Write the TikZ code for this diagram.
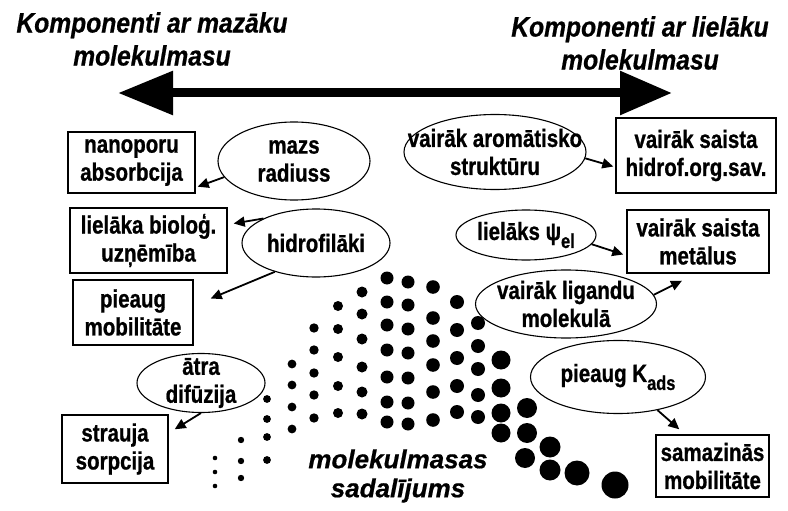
\documentclass[tikz,border=0pt]{standalone}
\usepackage{fontspec}
\setmainfont[BoldItalicFeatures={FakeBold=0.6}]{Liberation Sans}
\newfontfamily\narrowfont[FakeStretch=0.82, BoldFeatures={FakeBold=0.8}]{Liberation Sans}
\newfontfamily\titlefont[FakeStretch=0.88, BoldItalicFeatures={FakeBold=0.6}]{Liberation Sans}
\usetikzlibrary{shapes.geometric,arrows.meta}

\newcommand{\lowsub}[1]{\raisebox{-8pt}{\fontsize{20}{20}\selectfont #1}}

\begin{document}
\begin{tikzpicture}[x=1pt, y=-1pt,
	box/.style={draw, line width=1.4pt, inner sep=0pt, align=center, font=\narrowfont\fontsize{25}{28}\selectfont\bfseries},
	oval/.style={draw, ellipse, line width=1.1pt, inner sep=0pt},
	ovaltext/.style={align=center, inner sep=0pt, font=\narrowfont\fontsize{25}{28}\selectfont\bfseries},
	title/.style={align=center, font=\titlefont\fontsize{28}{33}\selectfont\bfseries\itshape},
	conn/.style={line width=1.8pt, -{Triangle[length=11pt,width=10pt]}},
	bigarrow/.style={line width=9pt, {Triangle[length=55pt,width=42pt]}-{Triangle[length=52pt,width=42pt]}}]

	\useasboundingbox (0,0) rectangle (788,511);

	% Titles
	\node[title] (small) at (152,39) {Komponenti ar mazāku\\molekulmasu};
	\node[title] (large) at (640,43) {Komponenti ar lielāku\\molekulmasu};

	% Molecular mass axis
	\coordinate (lft) at (118,93);
	\coordinate (rgt) at (672,93);
	\draw[bigarrow] (lft) -- (rgt);

	% Boxes, left side
	\node[box, minimum width=127pt, minimum height=61pt] (nanoporu) at (131.5,162.5) {nanoporu\\absorbcija};
	\node[box, minimum width=157pt, minimum height=65pt] (biolog) at (148.5,240.5) {lielāka bioloģ.\\uzņēmība};
	\node[box, minimum width=120pt, minimum height=65pt] (mobil) at (133,312.5) {pieaug\\mobilitāte};
	\node[box, minimum width=106pt, minimum height=68pt] (strauja) at (115,449) {strauja\\sorpcija};

	% Boxes, right side
	\node[box, minimum width=160pt, minimum height=75pt] (hidrof) at (696,155.5) {vairāk saista\\hidrof.org.sav.};
	\node[box, minimum width=142pt, minimum height=63pt] (metal) at (698,241.5) {vairāk saista\\metālus};
	\node[box, minimum width=113pt, minimum height=62pt] (samaz) at (712.5,466) {samazinās\\mobilitāte};

	% Properties (ellipses)
	\node[oval, minimum width=152pt, minimum height=78pt] (mazs) at (294,161) {};
	\node[ovaltext] (mazs-t) at (mazs) {mazs\\radiuss};
	\node[oval, minimum width=148pt, minimum height=68pt] (hidro) at (316,243) {};
	\node[ovaltext] (hidro-t) at (hidro) {hidrofilāki};
	\node[oval, minimum width=128pt, minimum height=59pt] (difuz) at (201,383) {};
	\node[ovaltext] (difuz-t) at (difuz) {ātra\\difūzija};
	\node[oval, minimum width=182pt, minimum height=75pt] (arom) at (495,152) {};
	\node[ovaltext] (arom-t) at (arom) {vairāk aromātisko\\struktūru};
	\node[oval, minimum width=140pt, minimum height=50pt] (psi) at (526,235) {};
	\node[ovaltext] (psi-t) at (psi) {lielāks ψ\lowsub{el}};
	\node[oval, minimum width=181pt, minimum height=68pt] (ligand) at (566,304) {};
	\node[ovaltext] (ligand-t) at (ligand) {vairāk ligandu\\molekulā};
	\node[oval, minimum width=175pt, minimum height=73pt] (kads) at (618,377) {};
	\node[ovaltext] (kads-t) at (kads) {pieaug K\lowsub{ads}};

	% Effects
	\draw[conn] (mazs.193) -- ([xshift=2pt,yshift=7pt]nanoporu.south east);
	\draw[conn] (hidro.155) -- ([xshift=6pt,yshift=17pt]biolog.east);
	\draw[conn] (hidro.215) -- ([xshift=17pt,yshift=14pt]mobil.east);
	\draw[conn] (difuz.south) -- ([xshift=6pt,yshift=-15pt]strauja.north east);
	\draw[conn] (arom.356) -- ([xshift=-2pt,yshift=-11pt]hidrof.west);
	\draw[conn] (psi.352) -- ([xshift=-3pt,yshift=-13pt]metal.west);
	\draw[conn] (ligand.6) -- ([xshift=-16pt,yshift=-7pt]metal.south);
	\draw[conn] (kads.320) -- ([xshift=24pt,yshift=5pt]samaz.north west);

	% Molecular mass distribution
	\foreach \px/\r/\ys in {215/2.3/{458,472,486}, 241/3.2/{440,461,478},
			267/3.9/{399,419,437,460}, 292/4.4/{364,385,407,429},
			314/4.7/{328,350,373,395,418}, 338/5/{306,329,357,386,413},
			362/5.5/{292,314,339,367,392,414}, 387/6.5/{278,302,325,350,377,402,422},
			408/6.5/{282,305,329,353,378,403,424}, 433/6.8/{287,318,341,365,392,420},
			457/7/{302,330,358,386,412}, 478/7/{323,346,369,395,417},
			501/9.5/{360,388,413,433}, 527/10/{408,433}, 525/10/{458},
			550/10.5/{447,470}, 577/12.5/{473}, 615/13.5/{485}}
		\foreach \py in \ys
			\fill (\px,\py) circle (\r pt);

	\node[title, font=\fontsize{26}{29}\selectfont\bfseries\itshape] (distr) at (398,476) {molekulmasas\\sadalījums};

\end{tikzpicture}
\end{document}
